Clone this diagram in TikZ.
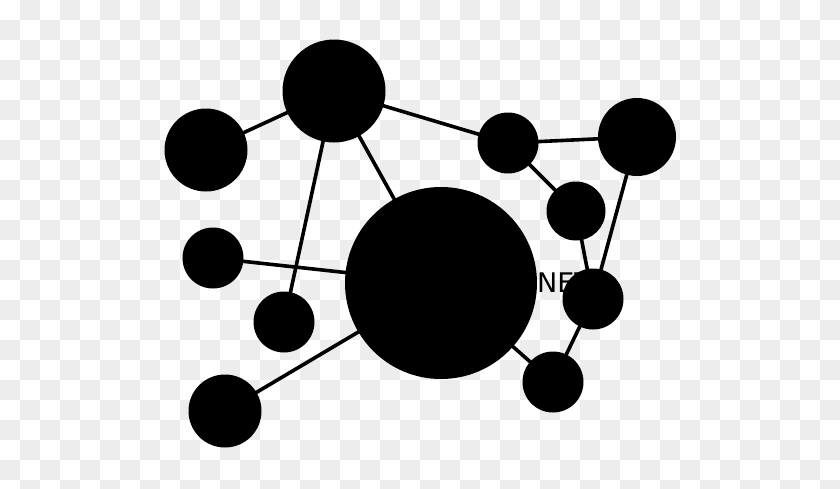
\documentclass[tikz,border=0pt]{standalone}
\usepackage{fontspec}
\newfontfamily\labfont{DejaVu Sans}
\definecolor{chk}{RGB}{237,237,237}
\begin{document}
\begin{tikzpicture}[x=1pt,y=-1pt,
  dot/.style={circle,fill=black,inner sep=0pt,outer sep=0pt},
  link/.style={line width=3.6pt,black}]
\useasboundingbox (0,0) rectangle (840,488);
\begin{scope}
\clip (0,0) rectangle (840,488);
\fill[white] (0,0) rectangle (840,488);
\foreach \j in {0,...,24}{
  \pgfmathsetmacro\off{mod(\j+1,2)*20}
  \foreach \i in {0,...,20}{
    \fill[chk] ({\i*40+\off},{\j*20}) rectangle ++(20,20);
  }
}
\end{scope}
% node positions
\coordinate (A) at (206,150);
\coordinate (B) at (334,91);
\coordinate (C) at (508,143);
\coordinate (D) at (637,137);
\coordinate (E) at (576,211);
\coordinate (F) at (593,299);
\coordinate (G) at (553,382);
\coordinate (H) at (441,283);
\coordinate (I) at (213,258);
\coordinate (J) at (284,322);
\coordinate (K) at (225,411);
% connectors
\draw[link] (A) -- (B);
\draw[link] (B) -- (C);
\draw[link] (B) -- (J);
\draw[link] (B) -- (H);
\draw[link] (C) -- (D);
\draw[link] (C) -- (E);
\draw[link] (E) -- (F);
\draw[link] (D) -- (F);
\draw[link] (F) -- (G);
\draw[link] (H) -- (G);
\draw[link] (H) -- (I);
\draw[link] (H) -- (K);
% label behind circles
\node[anchor=base west,inner sep=0pt,font=\labfont\fontsize{27}{27}\selectfont] (net) at (537,292) {NET};
% circles
\node[dot,minimum size=83pt] (nA) at (A) {};
\node[dot,minimum size=103pt] (nB) at (B) {};
\node[dot,minimum size=61pt] (nC) at (C) {};
\node[dot,minimum size=78pt] (nD) at (D) {};
\node[dot,minimum size=59pt] (nE) at (E) {};
\node[dot,minimum size=61pt] (nF) at (F) {};
\node[dot,minimum size=61pt] (nG) at (G) {};
\node[dot,minimum size=192pt] (nH) at (H) {};
\node[dot,minimum size=61pt] (nI) at (I) {};
\node[dot,minimum size=61pt] (nJ) at (J) {};
\node[dot,minimum size=73pt] (nK) at (K) {};
\end{tikzpicture}
\end{document}
